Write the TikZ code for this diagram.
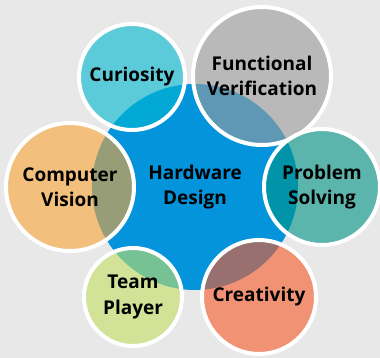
\documentclass[tikz,border=0pt]{standalone}
\usepackage{fontspec}
\setmainfont{Open Sans}
\definecolor{bgcol}{RGB}{232,232,232}
\definecolor{hubblue}{RGB}{3,148,220}
\definecolor{curiocol}{RGB}{0,184,207}
\definecolor{verifcol}{RGB}{155,155,155}
\definecolor{solvecol}{RGB}{0,148,134}
\definecolor{creatcol}{RGB}{250,89,39}
\definecolor{teamcol}{RGB}{196,225,100}
\definecolor{visioncol}{RGB}{249,164,52}
\begin{document}
\begin{tikzpicture}[x=1pt,y=-1pt,
  labelfont/.style={font=\fontsize{19}{25}\selectfont\bfseries, align=center, text=black},
  hubdisc/.style={circle, inner sep=0pt, fill=hubblue, labelfont},
  skill/.style={circle, inner sep=0pt, labelfont, fill opacity=0.6, text opacity=1,
    draw=white, draw opacity=1, line width=4pt},
]
\fill[bgcol] (0,0) rectangle (380,358);
\useasboundingbox (0,0) rectangle (380,358);

% central disc
\node[hubdisc, minimum size=206pt] (hub) at (195,187) {Hardware\\Design};

% surrounding skills
\node[skill, fill=curiocol, minimum size=106pt] (curiosity) at (132,77) {Curiosity};
\node[skill, fill=verifcol, minimum size=138pt] (verif) at (262,76) {Functional\\Verification};
\node[skill, fill=solvecol, minimum size=116pt] (solve) at (322,187) {Problem\\Solving};
\node[skill, fill=creatcol, minimum size=114pt] (creat) at (259,297) {Creativity};
\node[skill, fill=teamcol, minimum size=98pt] (team) at (133,297) {Team\\Player};
\node[skill, fill=visioncol, minimum size=128pt] (vision) at (70,187) {Computer\\Vision};
\end{tikzpicture}
\end{document}
